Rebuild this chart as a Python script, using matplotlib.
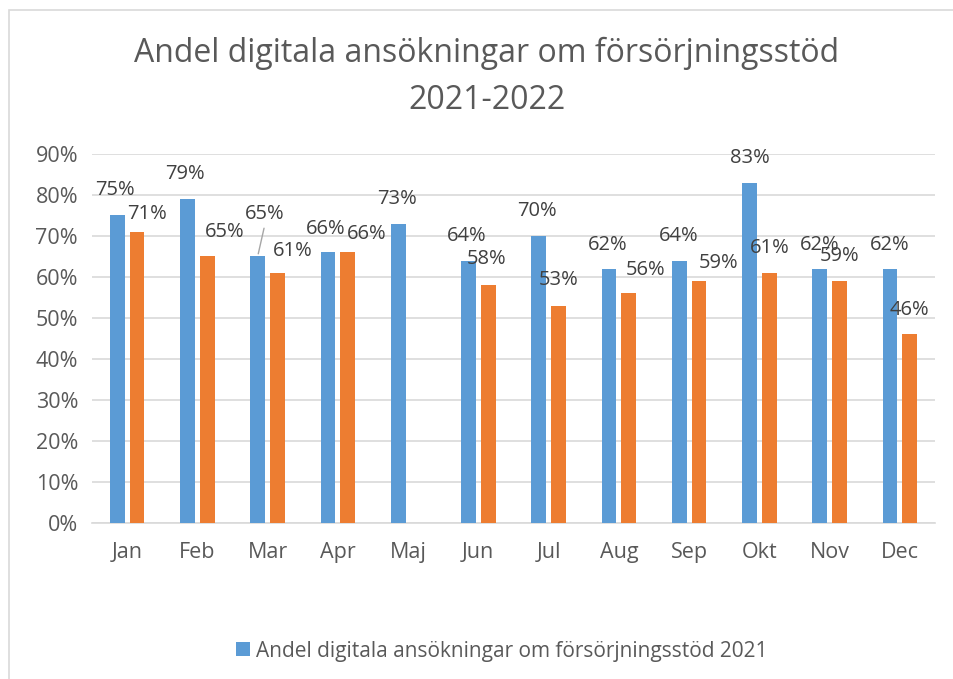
import matplotlib.pyplot as plt
from matplotlib.patches import Rectangle
from matplotlib.ticker import FuncFormatter
import numpy as np

months = ['Jan', 'Feb', 'Mar', 'Apr', 'Maj', 'Jun', 'Jul', 'Aug', 'Sep', 'Okt', 'Nov', 'Dec']
andel_2021 = [75, 79, 65, 66, 73, 64, 70, 62, 64, 83, 62, 62]
andel_2022 = [71, 65, 61, 66, np.nan, 58, 53, 56, 59, 61, 59, 46]

# label offsets (pixels) from bar top, as moved around in the original
off_2021 = [(-2, 25), (-2, 25), (7, 42), (-2, 23), (-1, 25), (-2, 25),
            (-2, 25), (-1, 24), (0, 25), (0, 25), (0, 24), (0, 24)]
off_2022 = [(10, 18), (17, 24), (15, 22), (19, 18), None, (-2, 26),
            (0, 26), (17, 23), (19, 18), (0, 25), (0, 25), (0, 24)]

blue = '#5b9bd5'
orange = '#ed7d31'
txt = '#595959'
font = 'Open Sans'

W, H = 954, 679
fig = plt.figure(figsize=(W / 100, H / 100), dpi=100)
ax = fig.add_axes([92 / W, (H - 523) / H, (935 - 92) / W, (523 - 154) / H])

x = np.arange(len(months))
bw = 0.21
off = 0.142
ax.bar(x - off, andel_2021, bw, color=blue, label='Andel digitala ansökningar om försörjningsstöd 2021', zorder=3)
ax.bar(x + off, andel_2022, bw, color=orange, zorder=3)

pt = 0.72  # px -> points at 100 dpi
lab_size = 14.5
for i, v in enumerate(andel_2021):
    dx, dy = off_2021[i]
    ax.annotate(f'{v}%', (x[i] - off, v), xytext=(dx * pt, dy * pt), textcoords='offset points',
                ha='center', va='center', fontsize=lab_size, color='#404040', family=font, zorder=4)
    if i == 2:
        ax.annotate('', (x[i] - off, v), xytext=(dx * pt, (dy - 11) * pt), textcoords='offset points',
                    arrowprops=dict(arrowstyle='-', color='#a6a6a6', lw=1))
for i, v in enumerate(andel_2022):
    if off_2022[i] is None:
        continue
    dx, dy = off_2022[i]
    ax.annotate(f'{v:.0f}%', (x[i] + off, v), xytext=(dx * pt, dy * pt), textcoords='offset points',
                ha='center', va='center', fontsize=lab_size, color='#404040', family=font, zorder=4)

ax.set_xlim(-0.5, len(months) - 0.5)
ax.set_ylim(0, 90)
ax.set_yticks(range(0, 91, 10))
ax.yaxis.set_major_formatter(FuncFormatter(lambda v, p: f'{v:.0f}%'))
ax.set_xticks(x)
ax.set_xticklabels(months)
ax.grid(axis='y', color='#d9d9d9', lw=1.2, zorder=0)
for s in ['top', 'right', 'left']:
    ax.spines[s].set_visible(False)
ax.spines['bottom'].set_color('#d9d9d9')
ax.spines['bottom'].set_linewidth(1.2)
ax.tick_params(length=0, labelsize=15.5, labelcolor=txt)
ax.tick_params(axis='x', pad=14)
ax.tick_params(axis='y', pad=10)
for lab in ax.get_xticklabels() + ax.get_yticklabels():
    lab.set_family(font)

fig.text(487 / W, 1 - 77 / H, 'Andel digitala ansökningar om försörjningsstöd\n2021-2022',
         ha='center', va='center', fontsize=23, color=txt, family=font, linespacing=1.55)

fig.legend(loc='center', bbox_to_anchor=(502 / W, 1 - 651 / H), frameon=False,
           prop={'family': font, 'size': 15}, labelcolor=txt, handlelength=0.65, handleheight=0.65,
           handletextpad=0.3)

fig.patches.append(Rectangle((9 / W, -0.1), 1.2, 1.1 - 10 / H, transform=fig.transFigure,
                             fill=False, edgecolor='#d9d9d9', lw=1.2))

fig.savefig('out.png', dpi=100)
